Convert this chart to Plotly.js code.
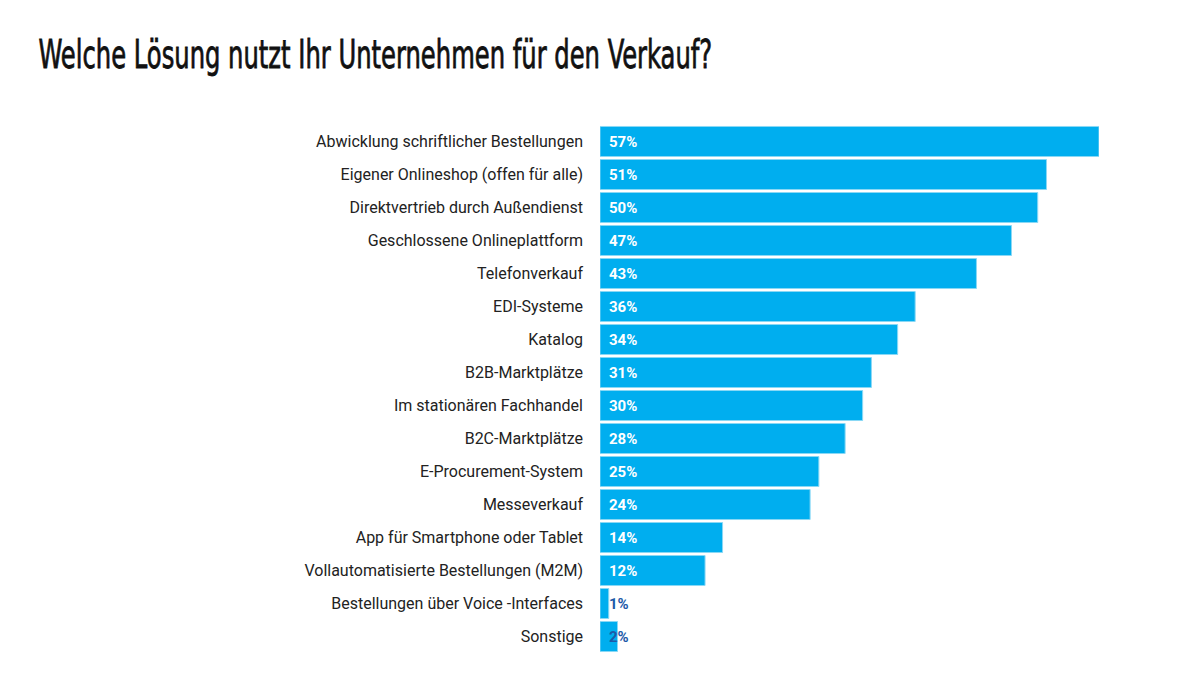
<!DOCTYPE html>
<html><head><meta charset="utf-8">
<script src="https://cdn.plot.ly/plotly-3.0.1.min.js"></script>
<style>body{margin:0;background:#fff}#c{width:1200px;height:697px}</style>
</head><body><div id="c"></div>
<script>
const categories = ["Abwicklung schriftlicher Bestellungen","Eigener Onlineshop (offen für alle)","Direktvertrieb durch Außendienst","Geschlossene Onlineplattform","Telefonverkauf","EDI-Systeme","Katalog","B2B-Marktplätze","Im stationären Fachhandel","B2C-Marktplätze","E-Procurement-System","Messeverkauf","App für Smartphone oder Tablet","Vollautomatisierte Bestellungen (M2M)","Bestellungen über Voice -Interfaces","Sonstige"];
const values = [57,51,50,47,43,36,34,31,30,28,25,24,14,12,1,2];
const labels = values.map(v => v + "%");
const labelColors = values.map(v => v < 5 ? "#1d5aa8" : "#ffffff");

const traces = [
  {type:"bar", orientation:"h", y:categories, x:values,
   marker:{color:"#00aeef", line:{color:"#8ad8f5", width:1}},
   hoverinfo:"skip", width:0.91}
];
const annotations = categories.map((c,i) => ({
  x:0, y:c, xref:"x", yref:"y", text:labels[i], showarrow:false,
  xanchor:"left", yanchor:"middle", xshift:7,
  font:{family:"Roboto", size:15, color:labelColors[i], weight:"bold"}
}));
const layout = {
  width:1200, height:697, showlegend:false,
  paper_bgcolor:"#fff", plot_bgcolor:"#fff",
  margin:{l:600, r:101, t:124.5, b:43.5},
  title:{text:"Welche Lösung nutzt Ihr Unternehmen für den Verkauf?", x:0.032, xanchor:"left", y:0.922, yanchor:"middle",
         font:{family:"DejaVu Sans Condensed, DejaVu Sans, sans-serif", size:39, color:"#111"}},
  xaxis:{range:[0,57], visible:false, fixedrange:true},
  yaxis:{type:"category", range:[categories.length-0.5,-0.5], showgrid:false, zeroline:false, showline:false, ticks:"",
         ticklabelstandoff:16, tickfont:{family:"Roboto", size:16, color:"#222"}},
  annotations:annotations
};
Plotly.newPlot("c", traces, layout, {displayModeBar:false, staticPlot:true}).then(gd => {
  const t = gd.querySelector(".gtitle");
  if (t) {
    const bb = t.getBBox();
    const target = 674;
    const sx = target / bb.width;
    const x0 = bb.x;
    t.setAttribute("transform", `translate(${x0},0) scale(${sx},1) translate(${-x0},0)`);
    t.style.stroke = "#111";
    t.style.strokeWidth = "0.8px";
  }
});
</script></body></html>
